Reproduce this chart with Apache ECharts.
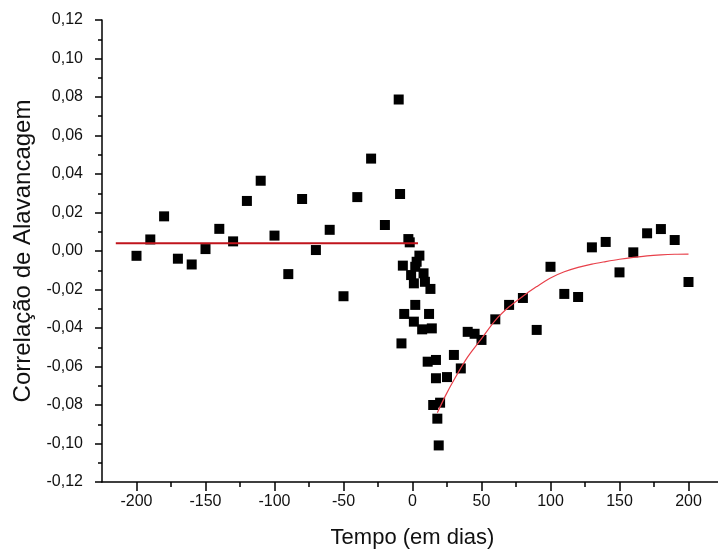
<!DOCTYPE html>
<html>
<head>
<meta charset="utf-8">
<script src="https://cdn.jsdelivr.net/npm/echarts@6/dist/echarts.min.js"></script>
<style>html,body{margin:0;padding:0;background:#fff;}#c{width:718px;height:550px;}</style>
</head>
<body>
<div id="c"></div>
<script>
// Scatter data (lag in days, leverage correlation)
var leftX = [-200,-190,-180,-170,-160,-150,-140,-130,-120,-110,-100,-90,-80,-70,-60,-50,-40,-30,-20];
var leftY = [-0.0025,0.006,0.018,-0.004,-0.007,0.001,0.0115,0.005,0.026,0.0365,0.008,-0.012,0.027,0.0005,0.011,-0.0235,0.028,0.048,0.0135];
var centerX = [-10,-9,-8,-7,-6,-3,-2,-1,1,1,2,2,3,5,7,8,9,11,12,13,14,15,17,17,18,19,20];
var centerY = [0.0787,0.0296,-0.048,-0.0076,-0.0327,0.0062,0.0045,-0.0125,-0.0168,-0.0367,-0.028,-0.0082,-0.0056,-0.0024,-0.0407,-0.0116,-0.016,-0.0575,-0.0327,-0.0197,-0.0402,-0.080,-0.0566,-0.0661,-0.0871,-0.101,-0.0788];
var rightX = [25,30,35,40,45,50,60,70,80,90,100,110,120,130,140,150,160,170,180,190,200];
var rightY = [-0.0655,-0.054,-0.061,-0.042,-0.043,-0.0462,-0.0355,-0.028,-0.0244,-0.041,-0.0082,-0.0223,-0.0239,0.0019,0.0047,-0.0111,-0.0007,0.0092,0.0114,0.0057,-0.0161];
// Fitted lines
var flatX = [-215, 4];
var flatY = [0.004, 0.004];
var fitX = [18,24,30,40,50,60,70,80,90,100,110,120,130,140,150,160,170,180,190,200];
var fitY = [-0.084,-0.075,-0.067,-0.055,-0.0455,-0.036,-0.029,-0.0235,-0.0185,-0.014,-0.0108,-0.0085,-0.0068,-0.0055,-0.0043,-0.0033,-0.0025,-0.002,-0.0017,-0.0016];
// Axis ticks
var xMajor = [-200,-150,-100,-50,0,50,100,150,200];
var xMinor = [-175,-125,-75,-25,25,75,125,175];

function pairs(xs, ys){ var out=[]; for(var i=0;i<xs.length;i++){ out.push([xs[i], ys[i]]); } return out; }
var scatterData = pairs(leftX,leftY).concat(pairs(centerX,centerY)).concat(pairs(rightX,rightY));

var font = 'Liberation Sans, Arial, sans-serif';
var chart = echarts.init(document.getElementById('c'), null, {renderer:'canvas'});
chart.setOption({
  backgroundColor: '#fff',
  animation: false,
  grid: {left: 102, right: -5, top: 20, bottom: 68, containLabel: false, outerBoundsMode: 'none'},
  xAxis: [{
    type: 'value', min: -225, max: 225,
    name: 'Tempo (em dias)', nameLocation: 'middle', nameGap: 45,
    nameTextStyle: {fontFamily: font, fontSize: 22, color: '#111'},
    axisLine: {show: true, onZero: false, lineStyle: {color: '#000', width: 1.5}},
    axisTick: {show: true, length: 9, customValues: xMajor, lineStyle: {color: '#000', width: 1.5}},
    axisLabel: {customValues: xMajor, fontFamily: font, fontSize: 16, color: '#111', margin: 12},
    splitLine: {show: false}
  },{
    type: 'value', min: -225, max: 225, position: 'bottom',
    axisLine: {show: false, onZero: false},
    axisTick: {show: true, length: 5, customValues: xMinor, lineStyle: {color: '#000', width: 1.5}},
    axisLabel: {show: false},
    splitLine: {show: false}
  }],
  yAxis: {
    type: 'value', min: -0.12, max: 0.12, interval: 0.02,
    name: 'Correlação de Alavancagem', nameLocation: 'middle', nameGap: 67,
    nameTextStyle: {fontFamily: font, fontSize: 24, color: '#111'},
    axisLine: {show: true, onZero: false, lineStyle: {color: '#000', width: 1.5}},
    axisTick: {show: true, length: 7, lineStyle: {color: '#000', width: 1.5}},
    minorTick: {show: true, splitNumber: 2, length: 4, lineStyle: {color: '#000', width: 1.5}},
    axisLabel: {fontFamily: font, fontSize: 16, color: '#111', margin: 19,
      formatter: function(v){ return v.toFixed(2).replace('.', ','); }},
    splitLine: {show: false}
  },
  series: [
    {type: 'line', data: pairs(flatX, flatY), symbol: 'none', lineStyle: {color: '#c0141c', width: 2}, z: 3},
    {type: 'line', data: pairs(fitX, fitY), symbol: 'none', smooth: 0.3, lineStyle: {color: '#e8404a', width: 1.2}, z: 3},
    {type: 'scatter', data: scatterData, symbol: 'rect', symbolSize: 10, itemStyle: {color: '#000', opacity: 1}, z: 2}
  ]
});
</script>
</body>
</html>
